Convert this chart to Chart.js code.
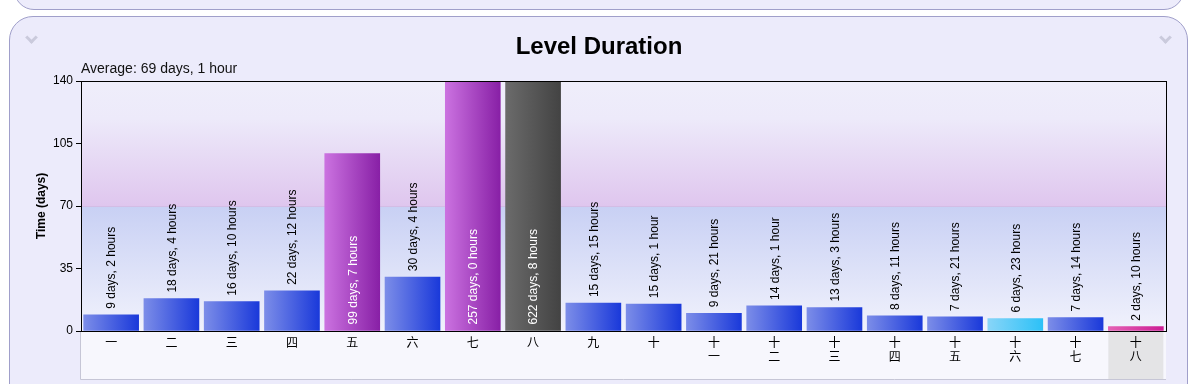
<!DOCTYPE html>
<html>
<head>
<meta charset="utf-8">
<script src="https://cdn.jsdelivr.net/npm/chart.js@4.4.1/dist/chart.umd.min.js"></script>
<style>
  html, body { margin: 0; padding: 0; background: #ffffff; width: 1202px; height: 384px; overflow: hidden; }
  .panel-top { position: absolute; left: 14px; top: -40px; width: 1168px; height: 48px; border: 1px solid #a09fca; border-radius: 20px; background: #edecfb; }
  .panel-main { position: absolute; left: 9px; top: 16px; width: 1177px; height: 400px; border: 1px solid #a09fca; border-radius: 24px; background: #ecebfb; }
  .chev { position: absolute; width: 6px; height: 6px; border-right: 3px solid #cacadc; border-bottom: 3px solid #cacadc; transform: rotate(45deg); }
  canvas { position: absolute; left: 0; top: 0; }
</style>
</head>
<body>
<div class="panel-top"></div>
<div class="panel-main"></div>
<div class="chev" style="left:27px; top:33px;"></div>
<div class="chev" style="left:1161px; top:33px;"></div>
<canvas id="c" width="1202" height="384"></canvas>
<script>
// ---- data ----
const categories = [
  ["一"], ["二"], ["三"], ["四"], ["五"], ["六"], ["七"], ["八"], ["九"], ["十"],
  ["十", "一"], ["十", "二"], ["十", "三"], ["十", "四"], ["十", "五"], ["十", "六"], ["十", "七"], ["十", "八"]
];
const durationDays  = [9, 18, 16, 22, 99, 30, 257, 622, 15, 15, 9, 14, 13, 8, 7, 6, 7, 2];
const durationHours = [2, 4, 10, 12, 7, 4, 0, 8, 15, 1, 21, 1, 3, 11, 21, 23, 14, 10];
const yTicks = [0, 35, 70, 105, 140];
const chartTitle = "Level Duration";
const averageText = "Average: 69 days, 1 hour";
const yAxisTitle = "Time (days)";

const values = durationDays.map((d, i) => d + durationHours[i] / 24);
const valueLabels = durationDays.map((d, i) => {
  const h = durationHours[i];
  return d + " days, " + h + (h === 1 ? " hour" : " hours");
});

// ---- styles ----
const palette = {
  blue:   ["#7c8de8", "#1a39da"],
  purple: ["#cb72e0", "#8820a6"],
  grey:   ["#6b6b6b", "#434343"],
  cyan:   ["#88d5f8", "#2cc1f7"],
  pink:   ["#e462b4", "#cc1d94"]
};
const barStyle = ["blue","blue","blue","blue","purple","blue","purple","grey","blue","blue",
                  "blue","blue","blue","blue","blue","cyan","blue","pink"];
const BAR_W = 55;
const FONT = '"Liberation Sans", Arial, sans-serif';

function barFill(ctx) {
  const chart = ctx.chart;
  const pal = palette[barStyle[ctx.dataIndex]] || palette.blue;
  if (!chart.chartArea || ctx.type !== 'data') return pal[1];
  const x = chart.scales.x.getPixelForValue(ctx.dataIndex);
  const g = chart.ctx.createLinearGradient(x - BAR_W / 2, 0, x + BAR_W / 2, 0);
  g.addColorStop(0, pal[0]);
  g.addColorStop(1, pal[1]);
  return g;
}

const backgroundPlugin = {
  id: 'bgBands',
  beforeDraw(chart) {
    const { ctx, chartArea: a, scales: { x, y } } = chart;
    ctx.save();
    const y70 = y.getPixelForValue(70);
    const y140 = y.getPixelForValue(140);
    const y0 = y.getPixelForValue(0);
    let g = ctx.createLinearGradient(0, y140, 0, y70);
    g.addColorStop(0, '#efeefb');
    g.addColorStop(0.3, '#edeafa');
    g.addColorStop(1, '#dfc6ee');
    ctx.fillStyle = g;
    ctx.fillRect(a.left, y140, a.width, y70 - y140);
    g = ctx.createLinearGradient(0, y70, 0, y0);
    g.addColorStop(0, '#c8d0f4');
    g.addColorStop(1, '#f1f2fc');
    ctx.fillStyle = g;
    ctx.fillRect(a.left, y70, a.width, y0 - y70);
    ctx.strokeStyle = '#d3bde5';
    ctx.lineWidth = 1;
    ctx.beginPath();
    ctx.moveTo(a.left, Math.round(y70) + 0.5);
    ctx.lineTo(a.right, Math.round(y70) + 0.5);
    ctx.stroke();
    // region under x axis
    ctx.fillStyle = '#f7f7fd';
    ctx.fillRect(x.left, x.top, x.width, x.height);
    // highlighted last category
    const last = categories.length - 1;
    const cx = x.getPixelForValue(last);
    ctx.fillStyle = '#e4e4e6';
    ctx.fillRect(cx - BAR_W / 2, x.top, BAR_W, x.height - 1);
    ctx.strokeStyle = '#c6c6d6';
    ctx.beginPath();
    ctx.moveTo(x.left - 0.5, x.top);
    ctx.lineTo(x.left - 0.5, x.bottom - 0.5);
    ctx.lineTo(x.right, x.bottom - 0.5);
    ctx.stroke();
    ctx.restore();
  },
  afterDatasetsDraw(chart) {
    const { ctx, chartArea: a } = chart;
    ctx.save();
    // frame
    ctx.strokeStyle = '#000';
    ctx.lineWidth = 1;
    ctx.strokeRect(Math.round(a.left) + 0.5, Math.round(a.top) + 0.5,
                   Math.round(a.right) - Math.round(a.left), Math.round(a.bottom) - Math.round(a.top));
    // value labels
    const meta = chart.getDatasetMeta(0);
    ctx.font = '12px ' + FONT;
    ctx.textAlign = 'left';
    ctx.textBaseline = 'middle';
    meta.data.forEach((bar, i) => {
      const text = valueLabels[i];
      const w = ctx.measureText(text).width;
      const inside = bar.y - 6 - w < a.top;
      ctx.save();
      ctx.translate(bar.x + 1, inside ? bar.base - 6 : bar.y - 6);
      ctx.rotate(-Math.PI / 2);
      ctx.fillStyle = inside ? '#ffffff' : '#000000';
      ctx.fillText(text, 0, 0);
      ctx.restore();
    });
    ctx.restore();
  }
};

new Chart(document.getElementById('c'), {
  type: 'bar',
  data: {
    labels: categories,
    datasets: [{
      data: values,
      backgroundColor: barFill,
      borderWidth: 0,
      barThickness: BAR_W
    }]
  },
  options: {
    responsive: false,
    animation: false,
    devicePixelRatio: 1,
    events: [],
    layout: { padding: { left: 0, right: 4, top: 0, bottom: 4 } },
    plugins: {
      legend: { display: false },
      tooltip: { enabled: false },
      title: {
        display: true, text: chartTitle, color: '#000',
        font: { family: FONT, size: 24, weight: 'bold', lineHeight: '28px' },
        padding: { top: 33, bottom: 0 }
      },
      subtitle: {
        display: true, text: averageText, color: '#111', align: 'start', fullSize: false,
        font: { family: FONT, size: 14, lineHeight: '16px' },
        padding: { top: 0, bottom: 4 }
      }
    },
    scales: {
      x: {
        type: 'category',
        grid: { display: false, drawTicks: false },
        border: { display: true, color: '#000', width: 1 },
        ticks: {
          color: '#000', autoSkip: false, maxRotation: 0, minRotation: 0, padding: 4,
          font: { family: '"Noto Sans CJK SC", sans-serif', size: 12, lineHeight: '14px' }
        },
        afterFit(s) { s.height = 49; }
      },
      y: {
        type: 'linear', position: 'left', min: 0, max: 140,
        afterBuildTicks(s) { s.ticks = yTicks.map(v => ({ value: v })); },
        ticks: { color: '#000', padding: 3, font: { family: FONT, size: 12 } },
        grid: { drawOnChartArea: false, drawTicks: true, tickLength: 5, color: '#000' },
        border: { display: true, color: '#000', width: 1 },
        title: {
          display: true, text: yAxisTitle, color: '#000',
          font: { family: FONT, size: 12, weight: 'bold', lineHeight: '14px' },
          padding: { top: 35, bottom: 0 }
        },
        afterFit(s) { s.width = 81; }
      },
      yRight: {
        type: 'linear', position: 'right', min: 0, max: 140,
        ticks: { display: false },
        grid: { display: false, drawTicks: false },
        border: { display: false },
        afterFit(s) { s.width = 32; }
      }
    }
  },
  plugins: [backgroundPlugin]
});
</script>
</body>
</html>
